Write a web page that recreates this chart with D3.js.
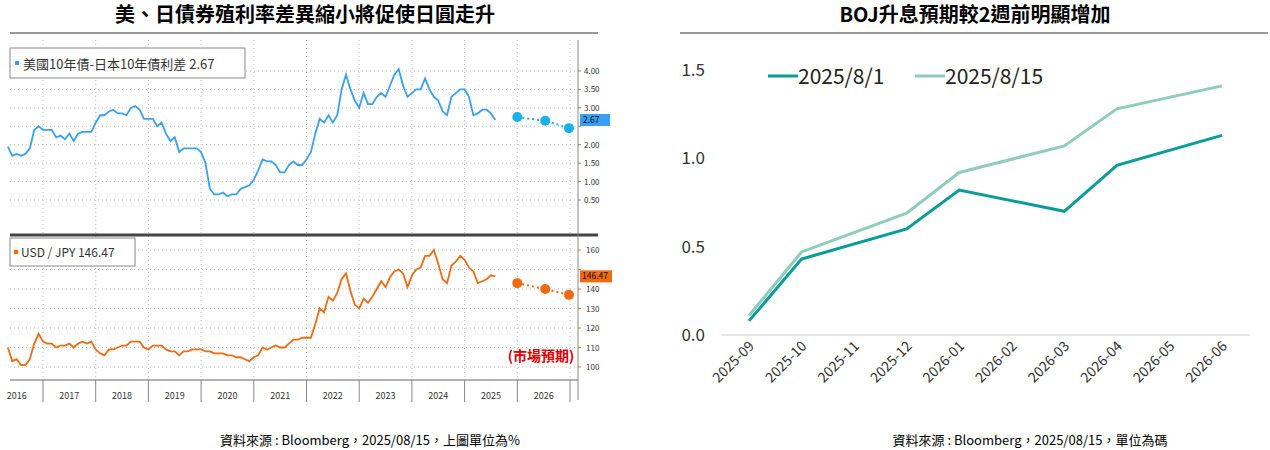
<!DOCTYPE html><html><head><meta charset="utf-8"><script src="https://cdn.jsdelivr.net/npm/d3@7"></script>
<style>body{margin:0;background:#fff;font-family:"Noto Sans CJK TC","Noto Sans",sans-serif}</style></head><body><svg id="c" width="1270" height="450"></svg><script>
const spread=[1.95,1.7,1.75,1.7,1.75,1.9,2.4,2.5,
2.4,2.4,2.4,2.2,2.25,2.15,2.3,2.1,2.3,2.35,2.35,2.35,
2.6,2.8,2.8,2.9,2.95,2.85,2.85,2.8,3.0,3.05,2.95,2.7,
2.7,2.7,2.5,2.6,2.3,2.1,2.2,1.8,1.9,1.9,1.9,1.9,
1.8,1.5,0.8,0.65,0.65,0.7,0.6,0.65,0.65,0.8,0.85,0.9,
1.05,1.3,1.6,1.55,1.55,1.45,1.25,1.25,1.45,1.55,1.45,1.45,
1.6,1.8,2.3,2.7,2.6,2.8,2.6,2.8,3.5,3.9,3.5,3.2,
3.0,3.4,3.1,3.1,3.3,3.4,3.3,3.6,3.9,4.05,3.6,3.3,
3.4,3.5,3.5,3.8,3.5,3.3,3.2,2.9,2.8,3.3,3.4,3.5,
3.5,3.3,2.8,2.85,2.95,2.95,2.85,2.67];
const usdjpy=[110,103,104,101,101,104,112,117,
113,112,112,110,111,111,112,110,112,113,112,113,
109,107,106,109,109,110,111,111,113,113,113,110,
109,111,111,111,109,108,108,106,108,108,109,109,
109,108,108,107,107,107,106,106,105,105,104,103,
105,106,110,109,110,111,110,110,112,114,114,115,
115,115,122,130,128,136,134,138,145,148,139,132,
130,135,133,136,140,144,141,146,149,150,148,141,
147,150,151,157,157,160,153,145,143,152,154,157,
155,151,149,143,144,145,147,146.47];
const fcDates=[2026.0,2026.53,2026.98];
const spreadFc=[2.75,2.65,2.45];
const usdjpyFc=[143,140,137];
const years=["2016","2017","2018","2019","2020","2021","2022","2023","2024","2025","2026"];
const spreadTicks=[0.5,1,1.5,2,2.5,3,3.5,4];
const fxTicks=[100,110,120,130,140,150,160];
const cats=["2025-09","2025-10","2025-11","2025-12","2026-01","2026-02","2026-03","2026-04","2026-05","2026-06"];
const boj0801=[0.08,0.43,null,0.6,0.82,null,0.7,0.96,null,1.13];
const boj0815=[0.11,0.47,null,0.69,0.92,null,1.07,1.28,null,1.41];

const svg=d3.select("#c");
const t0=2016+4/12;
const times=spread.map((d,i)=>t0+i/12);
const x=d3.scaleLinear().domain([2017,2027]).range([43,570]);
svg.append("text").attr("x",305).attr("y",22).attr("text-anchor","middle").attr("font-size",20).attr("font-weight","bold").text("美、日債券殖利率差異縮小將促使日圓走升");
svg.append("line").attr("x1",10).attr("x2",598).attr("y1",33).attr("y2",33).attr("stroke","#333");
svg.append("text").attr("x",975).attr("y",22).attr("text-anchor","middle").attr("font-size",20).attr("font-weight","bold").text("BOJ升息預期較2週前明顯增加");
svg.append("line").attr("x1",680).attr("x2",1268).attr("y1",33).attr("y2",33).attr("stroke","#333");
svg.append("text").attr("x",370).attr("y",445).attr("text-anchor","middle").attr("font-size",13).text("資料來源 : Bloomberg，2025/08/15，上圖單位為%");
svg.append("text").attr("x",1030).attr("y",445).attr("text-anchor","middle").attr("font-size",13).text("資料來源 : Bloomberg，2025/08/15，單位為碼");

const L=10,R=578;
const y1=d3.scaleLinear().domain([0.5,4]).range([200,71]);
const y2=d3.scaleLinear().domain([100,160]).range([367,250]);
const g=svg.append("g");
const grid="#bbb";
d3.range(2017,2028).forEach(v=>{g.append("line").attr("x1",x(v)).attr("x2",x(v)).attr("y1",40).attr("y2",380).attr("stroke",grid).attr("stroke-dasharray","1,3");});
spreadTicks.forEach(v=>g.append("line").attr("x1",L).attr("x2",R).attr("y1",y1(v)).attr("y2",y1(v)).attr("stroke",grid).attr("stroke-dasharray","1,3"));
fxTicks.forEach(v=>g.append("line").attr("x1",L).attr("x2",R).attr("y1",y2(v)).attr("y2",y2(v)).attr("stroke",grid).attr("stroke-dasharray","1,3"));
g.append("line").attr("x1",L).attr("x2",R+20).attr("y1",235).attr("y2",235).attr("stroke","#444").attr("stroke-width",3);
g.append("line").attr("x1",L).attr("x2",R).attr("y1",380).attr("y2",380).attr("stroke","#666");
g.append("line").attr("x1",R).attr("x2",R).attr("y1",40).attr("y2",400).attr("stroke","#888");
d3.range(2017,2028).forEach(v=>g.append("line").attr("x1",x(v)).attr("x2",x(v)).attr("y1",380).attr("y2",402).attr("stroke","#888"));
years.forEach((yr,i)=>g.append("text").attr("x",x(2016.5+i)).attr("y",399).attr("text-anchor","middle").attr("font-size",9).attr("fill","#333").text(yr));
spreadTicks.forEach(v=>{g.append("line").attr("x1",R).attr("x2",R+3).attr("y1",y1(v)).attr("y2",y1(v)).attr("stroke","#888");
 if(v!==2.5) g.append("text").attr("x",R+6).attr("y",y1(v)+3).attr("font-size",8).attr("fill","#333").text(v.toFixed(2));});
fxTicks.forEach(v=>{g.append("line").attr("x1",R).attr("x2",R+3).attr("y1",y2(v)).attr("y2",y2(v)).attr("stroke","#f07020");
 if(v!==150) g.append("text").attr("x",R+8).attr("y",y2(v)+3).attr("font-size",8).attr("fill","#333").text(v);});
const blue="#3a9ff0",orange="#f06a10";
g.append("path").attr("d",d3.line().x((d,i)=>x(times[i])).y(d=>y1(d))(spread)).attr("fill","none").attr("stroke",blue).attr("stroke-width",1.8);
g.append("path").attr("d",d3.line().x((d,i)=>x(times[i])).y(d=>y2(d))(usdjpy)).attr("fill","none").attr("stroke",orange).attr("stroke-width",1.8);
g.append("path").attr("d",d3.line().x((d,i)=>x(fcDates[i])).y(d=>y1(d))(spreadFc)).attr("fill","none").attr("stroke","#1ab0ea").attr("stroke-width",2).attr("stroke-dasharray","2,3");
spreadFc.forEach((d,i)=>g.append("circle").attr("cx",x(fcDates[i])).attr("cy",y1(d)).attr("r",5).attr("fill","#1ab0ea"));
g.append("path").attr("d",d3.line().x((d,i)=>x(fcDates[i])).y(d=>y2(d))(usdjpyFc)).attr("fill","none").attr("stroke",orange).attr("stroke-width",2).attr("stroke-dasharray","2,3");
usdjpyFc.forEach((d,i)=>g.append("circle").attr("cx",x(fcDates[i])).attr("cy",y2(d)).attr("r",5).attr("fill",orange));
g.append("rect").attr("x",R+2).attr("y",y1(2.67)-6).attr("width",30).attr("height",12).attr("fill",blue);
g.append("text").attr("x",R+5).attr("y",y1(2.67)+3).attr("font-size",8.5).attr("fill","#111").text("2.67");
g.append("rect").attr("x",R+2).attr("y",y2(146.47)-6).attr("width",32).attr("height",12).attr("fill",orange);
g.append("text").attr("x",R+4).attr("y",y2(146.47)+3).attr("font-size",8.5).attr("fill","#111").text("146.47");
g.append("rect").attr("x",10).attr("y",48).attr("width",235).attr("height",30).attr("fill","#fff").attr("stroke","#888");
g.append("rect").attr("x",15).attr("y",61).attr("width",4).attr("height",4).attr("fill",blue);
g.append("text").attr("x",23).attr("y",69).attr("font-size",13).attr("fill","#333").text("美國10年債-日本10年債利差 2.67");
g.append("rect").attr("x",10).attr("y",238).attr("width",125).attr("height",28).attr("fill","#fff").attr("stroke","#888");
g.append("rect").attr("x",14).attr("y",250).attr("width",4).attr("height",4).attr("fill",orange);
g.append("text").attr("x",21).attr("y",257).attr("font-size",12).attr("fill","#333").text("USD / JPY 146.47");
g.append("text").attr("x",541).attr("y",361).attr("text-anchor","middle").attr("font-size",14).attr("font-weight","bold").attr("fill","#e00000").text("(市場預期)");

const xb=d3.scalePoint().domain(cats).range([749,1222]);
const yb=d3.scaleLinear().domain([0,1.5]).range([335,70]);
const h=svg.append("g");
h.append("line").attr("x1",722).attr("x2",1250).attr("y1",335).attr("y2",335).attr("stroke","#ccc");
[0,0.5,1,1.5].forEach(v=>h.append("text").attr("x",705).attr("y",yb(v)+6).attr("text-anchor","end").attr("font-size",17).attr("fill","#333").text(v.toFixed(1)));
cats.forEach(c=>h.append("text").attr("transform",`translate(${xb(c)+6},${347}) rotate(-45)`).attr("text-anchor","end").attr("font-size",14).attr("fill","#333").text(c));
const c1="#0a9c98",c2="#8ecdb8";
[[boj0815,c2],[boj0801,c1]].forEach(([arr,col])=>{
 const pts=cats.map((c,i)=>[c,arr[i]]).filter(d=>d[1]!=null);
 h.append("path").attr("d",d3.line().x(d=>xb(d[0])).y(d=>yb(d[1]))(pts)).attr("fill","none").attr("stroke",col).attr("stroke-width",3);
});
[["2025/8/1",c1,768],["2025/8/15",c2,915]].forEach(([t,col,lx])=>{
 h.append("line").attr("x1",lx).attr("x2",lx+30).attr("y1",76).attr("y2",76).attr("stroke",col).attr("stroke-width",3);
 h.append("text").attr("x",lx+30).attr("y",84).attr("font-size",21).attr("fill","#222").text(t);
});
</script></body></html>
